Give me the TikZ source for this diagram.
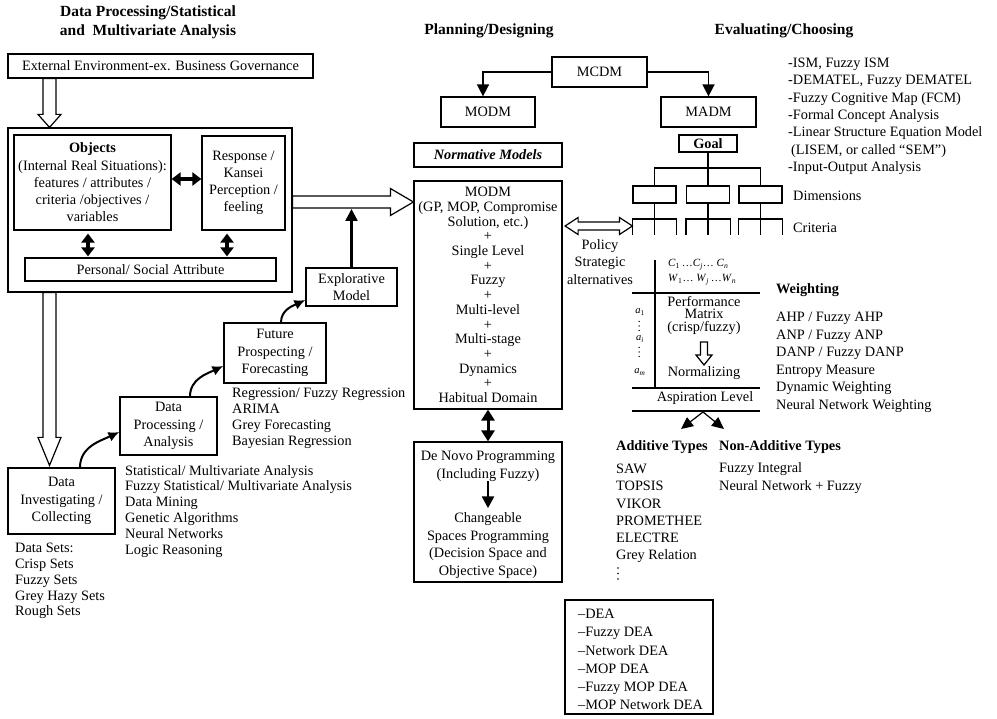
\documentclass[tikz,border=0pt]{standalone}
\usepackage{fontspec}
\setmainfont{Liberation Serif}
\usetikzlibrary{arrows.meta,calc}
\newcommand\fsz{\fontsize{14.3pt}{17.2pt}\selectfont}
\newcommand\sub[2]{\textit{#1}\textsubscript{#2}}
\newcommand\hollowarrow[6]{%
  \begin{scope}[shift={(#1)},rotate=#3]
  \draw[line width=1.2pt,fill=white] let \p1=($(#2)-(#1)$), \n1={veclen(\x1,\y1)} in
   (0pt,-#4pt) -- (\n1-#6pt,-#4pt) -- (\n1-#6pt,-#5pt) -- (\n1,0pt) -- (\n1-#6pt,#5pt) -- (\n1-#6pt,#4pt) -- (0pt,#4pt) -- cycle;
  \end{scope}}
\newcommand\hollowdouble[6]{%
  \begin{scope}[shift={(#1)},rotate=#3]
  \draw[line width=1.2pt,fill=white] let \p1=($(#2)-(#1)$), \n1={veclen(\x1,\y1)} in
   (0pt,0pt) -- (#6pt,-#5pt) -- (#6pt,-#4pt) -- (\n1-#6pt,-#4pt) -- (\n1-#6pt,-#5pt) -- (\n1,0pt) -- (\n1-#6pt,#5pt) -- (\n1-#6pt,#4pt) -- (#6pt,#4pt) -- (#6pt,#5pt) -- cycle;
  \end{scope}}
\begin{document}
\begin{tikzpicture}[x=1pt,y=-1pt,
  box/.style={draw,line width=1.2pt,inner sep=0pt,align=center,font=\fsz},
  txt/.style={inner sep=0pt,align=center,font=\fsz},
  lst/.style={inner sep=0pt,align=left,anchor=north west,font=\fsz},
  ttl/.style={inner sep=0pt,align=center,font=\fontsize{15.5pt}{19pt}\selectfont\bfseries},
  hl/.style={line width=1.1pt},
  fatdbl/.style={line width=3.5pt,{Triangle[length=9pt,width=13pt]}-{Triangle[length=9pt,width=13pt]}},
  meddbl/.style={line width=3pt,{Triangle[length=11pt,width=13pt]}-{Triangle[length=11pt,width=13pt]}},
  fatone/.style={line width=2.5pt,-{Triangle[length=12pt,width=12pt]}},
  curvy/.style={line width=2pt,-{Latex[length=11pt,width=10pt]}},
  mcarr/.style={line width=1.5pt,-{Triangle[length=12pt,width=12pt]}},
  asparr/.style={line width=1.2pt,-{Triangle[length=12pt,width=11pt]}},
]
\fill[white] (0,0) rectangle (997,719);
\useasboundingbox (0,0) rectangle (997,719);

% titles
\node[ttl] (t1) at (148,22) {Data Processing/Statistical\\and\ \ Multivariate Analysis};
\node[ttl] (t2) at (489,31) {Planning/Designing};
\node[ttl] (t3) at (784,31) {Evaluating/Choosing};

% left part
\node[box,minimum width=305pt,minimum height=24pt] (ext) at (160.5,66) {External Environment-ex. Business Governance};
\node[box,minimum width=284pt,minimum height=164pt] (big) at (150,210) {};
\node[box,minimum width=157pt,minimum height=95pt] (obj) at (92.5,182.5) {\textbf{Objects}\\(Internal Real Situations):\\features / attributes /\\criteria /objectives /\\variables};
\node[box,minimum width=83pt,minimum height=94pt] (resp) at (243.5,183) {Response /\\Kansei\\Perception /\\feeling};
\node[box,minimum width=251pt,minimum height=23pt] (pers) at (150.5,269.5) {Personal/ Social Attribute};

\node[box,minimum width=107pt,minimum height=66pt] (di) at (61.5,501) {Data\\Investigating /\\Collecting};
\node[box,minimum width=97pt,minimum height=58pt] (dp) at (168.5,426) {Data\\Processing /\\Analysis};
\node[box,minimum width=102pt,minimum height=60pt] (fp) at (275,353) {Future\\Prospecting /\\Forecasting};
\node[box,minimum width=91pt,minimum height=38pt] (ex) at (351.5,287) {Explorative\\Model};

\node[lst,font=\fontsize{14.3pt}{16pt}\selectfont] (fplist) at (232,388) {Regression/ Fuzzy Regression\\ARIMA\\Grey Forecasting\\Bayesian Regression};
\node[lst,font=\fontsize{14.3pt}{15.8pt}\selectfont] (dplist) at (125,465) {Statistical/ Multivariate Analysis\\Fuzzy Statistical/ Multivariate Analysis\\Data Mining\\Genetic Algorithms\\Neural Networks\\Logic Reasoning};
\node[lst,font=\fontsize{14.3pt}{15.8pt}\selectfont] (dilist) at (15,543) {Data Sets:\\Crisp Sets\\Fuzzy Sets\\Grey Hazy Sets\\Rough Sets};

% middle part
\node[box,minimum width=95pt,minimum height=30pt] (mcdm) at (599.5,72) {MCDM};
\node[box,minimum width=94pt,minimum height=30pt] (modm) at (488,112) {MODM};
\node[box,minimum width=95pt,minimum height=30pt] (madm) at (708.5,112) {MADM};
\node[box,minimum width=148pt,minimum height=24pt,font=\fsz\bfseries\itshape] (norm) at (488,155) {Normative Models};
\node[box,minimum width=148pt,minimum height=228pt,font=\fontsize{14.3pt}{14.7pt}\selectfont] (modmbig) at (488,295) {MODM\\(GP, MOP, Compromise\\Solution, etc.)\\+\\Single Level\\+\\Fuzzy\\+\\Multi-level\\+\\Multi-stage\\+\\Dynamics\\+\\Habitual Domain};
\node[box,minimum width=148pt,minimum height=140pt] (denovo) at (488,512) {};
\node[txt,font=\fontsize{14.3pt}{18pt}\selectfont] (dn1) at (488,466) {De Novo Programming\\(Including Fuzzy)};
\node[txt,font=\fontsize{14.3pt}{17.7pt}\selectfont] (dn2) at (488,545.5) {Changeable\\Spaces Programming\\(Decision Space and\\Objective Space)};
\node[txt] (pol) at (600,262) {Policy\\Strategic\\alternatives};
\node[box,minimum width=148pt,minimum height=114pt] (dea) at (639,657) {};
\node[lst,font=\fontsize{14.3pt}{18.2pt}\selectfont] (dealist) at (578,609) {–DEA\\–Fuzzy DEA\\–Network DEA\\–MOP DEA\\–Fuzzy MOP DEA\\–MOP Network DEA};

% right part
\node[box,minimum width=58pt,minimum height=17pt,font=\fsz\bfseries] (goal) at (708,143.5) {Goal};
\node[box,hl,minimum width=43pt,minimum height=17pt] (dim1) at (654.5,194.5) {};
\node[box,hl,minimum width=43pt,minimum height=17pt] (dim2) at (708,194.5) {};
\node[box,hl,minimum width=43pt,minimum height=17pt] (dim3) at (760.5,194.5) {};
\draw[hl] (goal.south) -- (dim2.north);
\draw[hl] (dim1.north) -- (dim1.north |- 0,168) -- (dim3.north |- 0,168) -- (dim3.north);
\foreach \d in {dim1,dim2,dim3}{
  \draw[hl] (\d.south) -- (\d.south |- 0,235);
  \draw[hl] (\d.west |- 0,235) -- (\d.west |- 0,219) -- (\d.east |- 0,219) -- (\d.east |- 0,235);
}
\node[txt,anchor=west] (dimlab) at (793,196) {Dimensions};
\node[txt,anchor=west] (critlab) at (793,228) {Criteria};
\node[lst,font=\fontsize{14.3pt}{17.3pt}\selectfont] (ism) at (788,58) {-ISM, Fuzzy ISM\\-DEMATEL, Fuzzy DEMATEL\\-Fuzzy Cognitive Map (FCM)\\-Formal Concept Analysis\\-Linear Structure Equation Model\\\hspace*{3pt}(LISEM, or called “SEM”)\\-Input-Output Analysis};

% performance matrix
\draw[hl] (655,260) -- (655,388);
\draw[hl] (632,293) -- (760,293);
\draw[hl] (632,388) -- (760,388);
\draw[hl] (632,411) -- (760,411);
\node[txt,anchor=west,font=\fontsize{11pt}{13pt}\selectfont] (crow) at (668,265) {\sub{C}{1}\,\ldots\sub{C}{\textit{j}}\ldots\ \sub{C}{\textit{n}}};
\node[txt,anchor=west,font=\fontsize{11pt}{13pt}\selectfont] (wrow) at (668,280) {\sub{W}{1}\ldots\ \sub{W}{\textit{j}}\,\ldots\sub{W}{\textit{n}}};
\node[txt,font=\fontsize{14.3pt}{12.5pt}\selectfont] (perf) at (704,315.5) {Performance\\Matrix\\(crisp/fuzzy)};
\node[txt] (nrm) at (704,373) {Normalizing};
\node[txt] (asp) at (705,398.5) {Aspiration Level};
\node[txt,font=\fontsize{10.5pt}{12pt}\selectfont] (a1) at (640,312) {\sub{a}{1}};
\node[txt,font=\fontsize{10.5pt}{12pt}\selectfont] (ai) at (640,339) {\sub{a}{\textit{i}}};
\node[txt,font=\fontsize{10.5pt}{12pt}\selectfont] (am) at (640,372) {\sub{a}{\textit{m}}};
\foreach \yy in {321.5,326,330.5,347.5,352,356.5}{\fill (639,\yy) circle (0.75pt);}

\node[txt,anchor=west,font=\fsz\bfseries] (wt) at (776,290) {Weighting};
\node[lst,font=\fontsize{14.3pt}{17.5pt}\selectfont] (wlist) at (776,312) {AHP / Fuzzy AHP\\ANP / Fuzzy ANP\\DANP / Fuzzy DANP\\Entropy Measure\\Dynamic Weighting\\Neural Network Weighting};
\node[txt,anchor=west,font=\fsz\bfseries] (add) at (616,447) {Additive Types};
\node[lst,font=\fontsize{14.3pt}{17.2pt}\selectfont] (addlist) at (616,464) {SAW\\TOPSIS\\VIKOR\\PROMETHEE\\ELECTRE\\Grey Relation};
\foreach \yy in {568,573.5,579}{\fill (618,\yy) circle (0.85pt);}
\node[txt,anchor=west,font=\fsz\bfseries] (nadd) at (719,447) {Non-Additive Types};
\node[lst,font=\fontsize{14.3pt}{18pt}\selectfont] (nlist) at (719,462) {Fuzzy Integral\\Neural Network + Fuzzy};

% hollow arrows
\coordinate (h1s) at (ext.south -| 49.5,0);
\coordinate (h1e) at (big.north -| 49.5,0);
\hollowarrow{h1s}{h1e}{-90}{6.5}{11.5}{13}
\coordinate (h2s) at (big.south -| 49.5,0);
\coordinate (h2e) at ($(di.north -| 49.5,0)+(0,-2)$);
\hollowarrow{h2s}{h2e}{-90}{6.5}{11.5}{28}
\coordinate (h3s) at (big.east |- 0,202);
\coordinate (h3e) at (modmbig.west |- 0,202);
\hollowarrow{h3s}{h3e}{0}{6}{13.5}{23}
\coordinate (h4s) at ($(modmbig.east |- 0,226)+(2.5,0)$);
\coordinate (h4e) at (dim1.west |- 0,226);
\hollowdouble{h4s}{h4e}{0}{4}{8.5}{13}
\coordinate (h5s) at (perf.south |- 0,342);
\coordinate (h5e) at (perf.south |- 0,365);
\hollowarrow{h5s}{h5e}{-90}{3.5}{8}{10}

% black arrows
\draw[fatdbl] (obj.east |- 0,179) -- (resp.west |- 0,179);
\draw[fatdbl,shorten <=3pt,shorten >=1pt] (obj.south -| 88,0) -- (pers.north -| 88,0);
\draw[fatdbl,shorten <=3pt,shorten >=1pt] (resp.south -| 227,0) -- (pers.north -| 227,0);
\draw[meddbl] (modmbig.south) -- (denovo.north);
\coordinate (exend) at (ex.north |- 0,209);
\draw[fatone] (ex.north) -- (exend);
\draw[fatone,shorten >=4pt] (dn1.south) -- (dn2.north);
\draw[curvy] ([xshift=18.5pt]di.north) to[out=90,in=205] ([yshift=-6pt]dp.west);
\draw[curvy] ([xshift=21.5pt]dp.north) to[out=90,in=205] ([yshift=-13pt]fp.west);
\draw[curvy] ([xshift=6pt]fp.north) to[out=90,in=205] ([yshift=-13pt]ex.west);
\draw[mcarr] (mcdm.west) -| ([xshift=-5pt]modm.north);
\draw[mcarr] (mcdm.east) -| (madm.north);
\coordinate (aspc) at (703,412);
\coordinate (aspl) at (681,429);
\coordinate (aspr) at (724,429);
\draw[asparr] (aspc) -- (aspl);
\draw[asparr] (aspc) -- (aspr);
\end{tikzpicture}
\end{document}
